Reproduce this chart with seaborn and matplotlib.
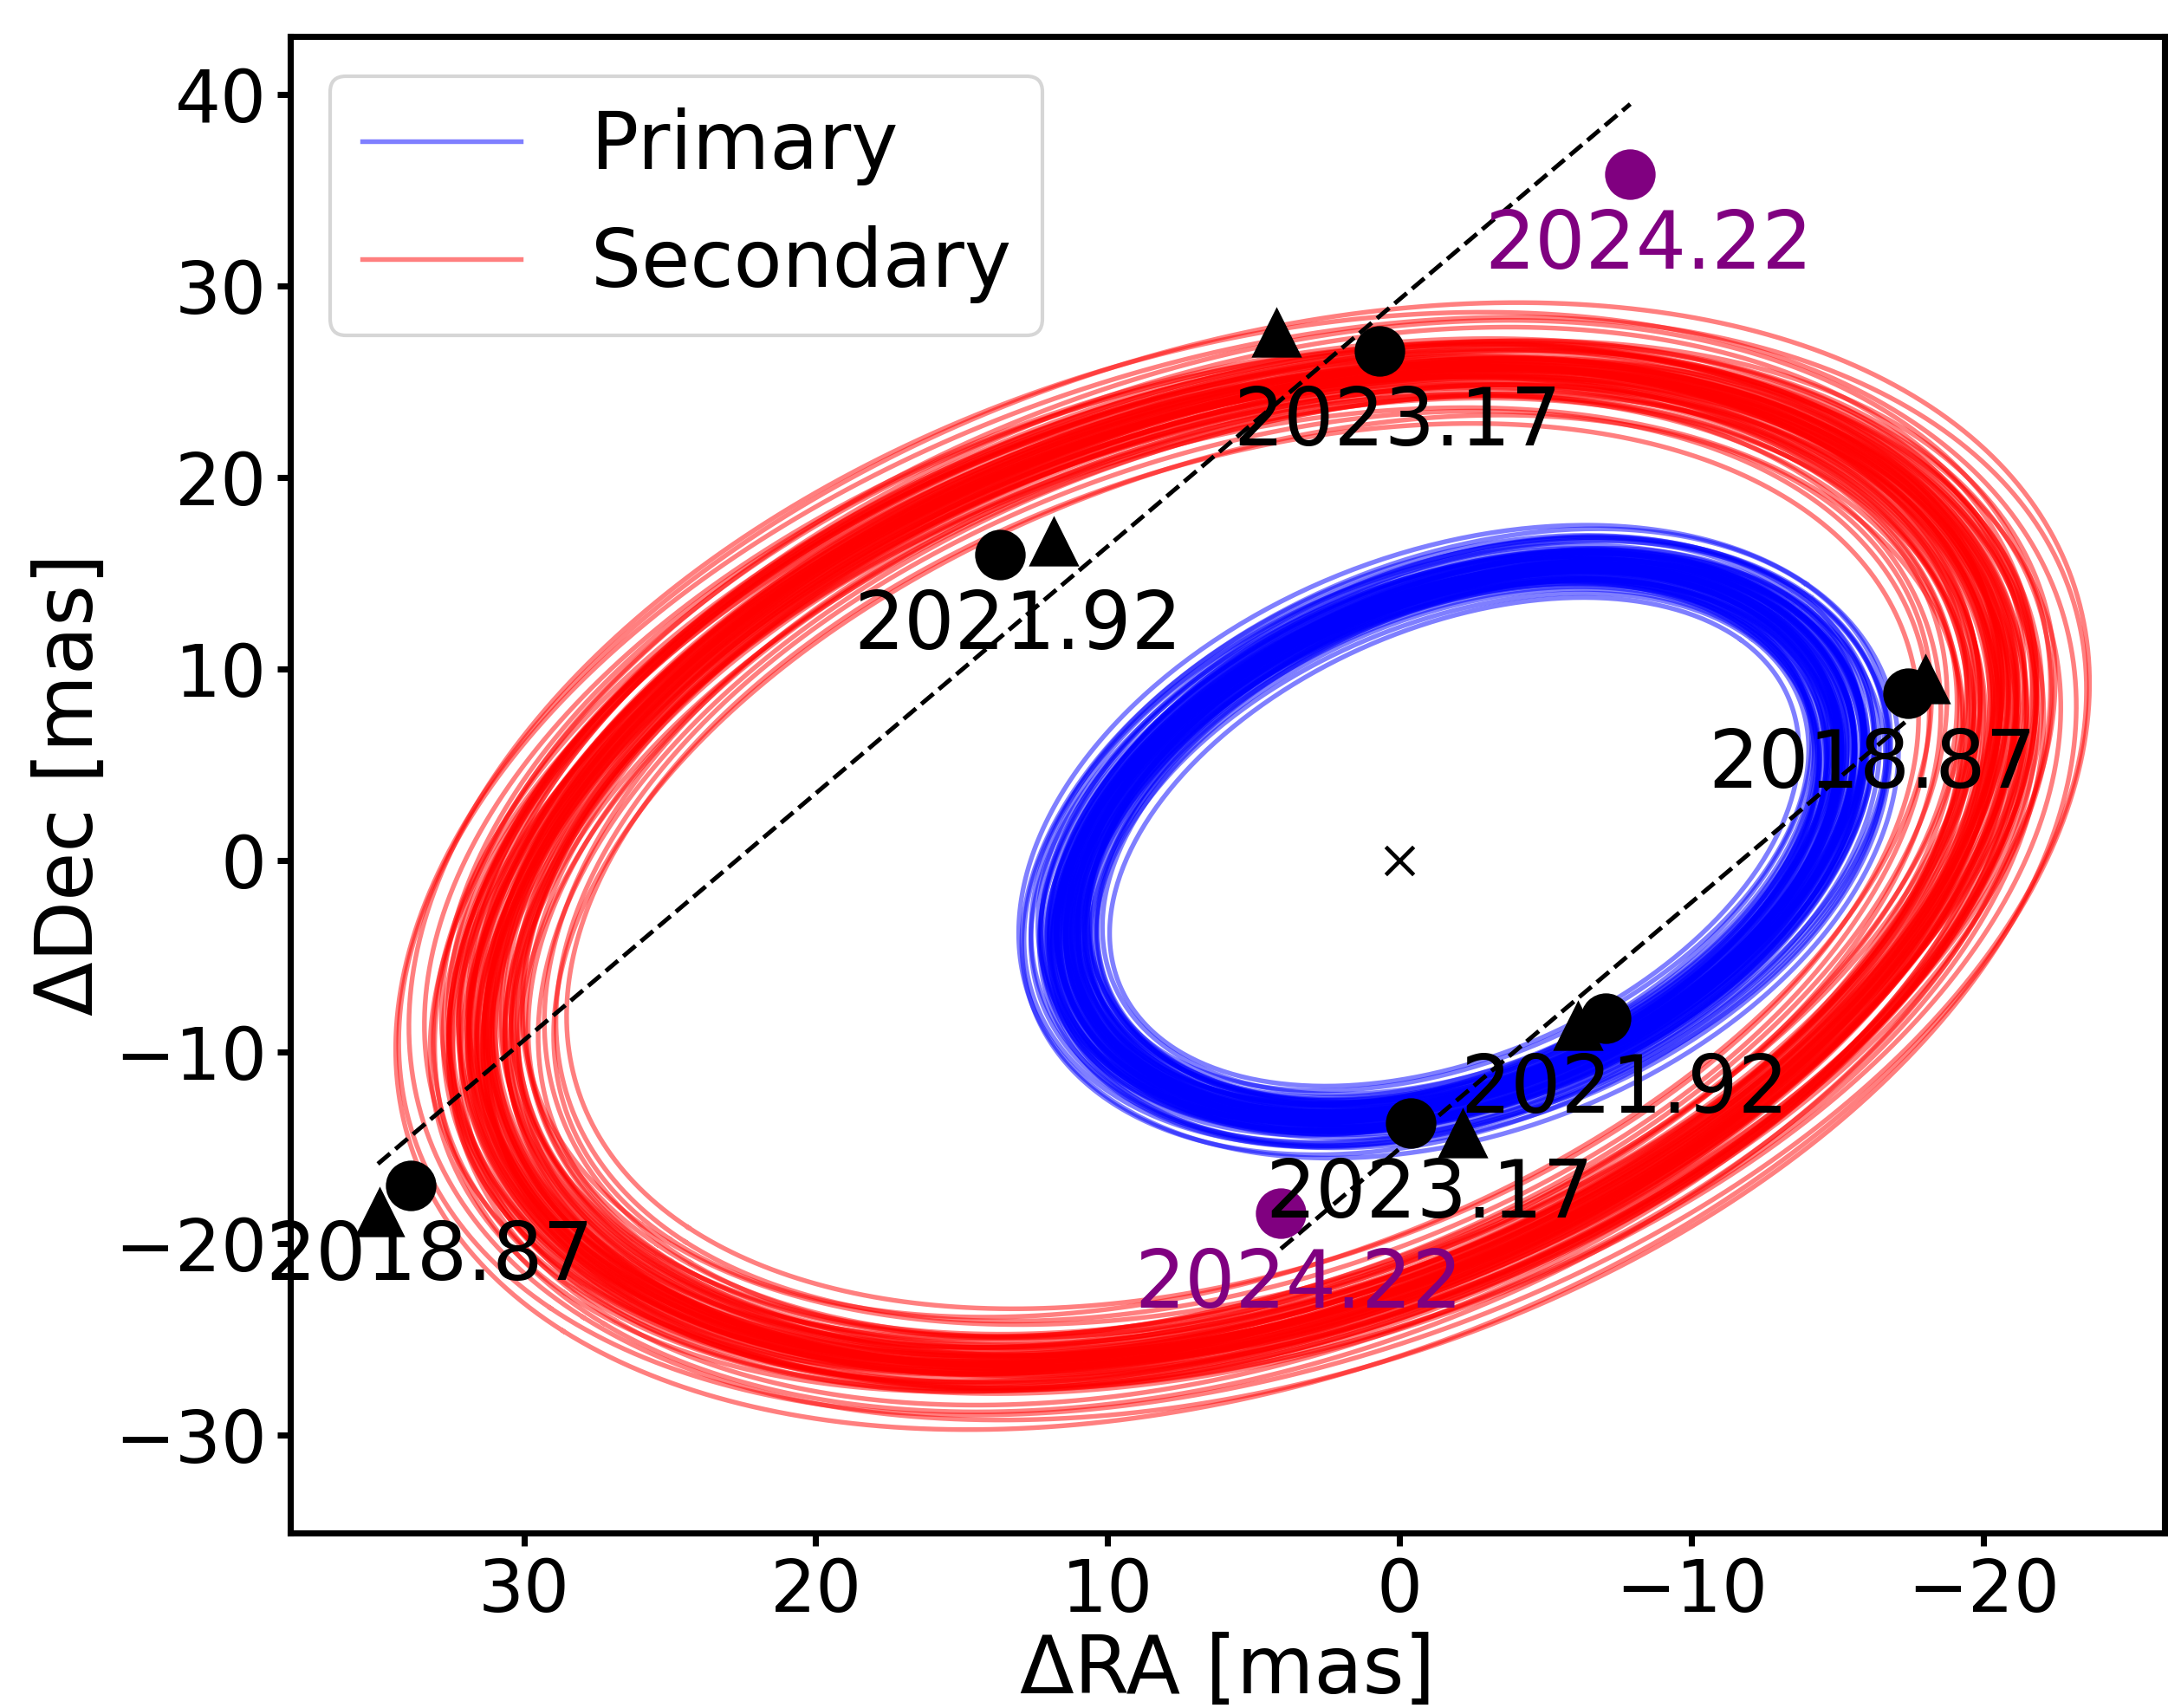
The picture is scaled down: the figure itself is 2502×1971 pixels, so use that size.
import numpy as np
import pandas as pd
import matplotlib
matplotlib.use("Agg")
import matplotlib.pyplot as plt
from matplotlib.lines import Line2D
import seaborn as sns

# ── measured astrometry (mas) ──
epochs = ["2018.87", "2021.92", "2023.17", "2024.22"]
sec_ra = [33.86, 13.69, 0.69, -7.90]
sec_dec = [-16.94, 15.97, 26.60, 35.82]
sec_tri_ra = [34.95, 11.84, 4.23]
sec_tri_dec = [-18.30, 16.67, 27.61]
pri_ra = [-17.42, -7.07, -0.39, 4.07]
pri_dec = [8.75, -8.22, -13.68, -18.39]
pri_tri_ra = [-18.01, -6.12, -2.17]
pri_tri_dec = [9.49, -8.58, -14.18]

sec_line_ra = [35.0, -7.9]
sec_line_dec = [-15.83, 39.48]
pri_line_ra = [4.07, -17.31]
pri_line_dec = [-20.26, 7.22]

# mean projected orbit of the secondary (ellipse, mas / deg)
sec_cx, sec_cy = 5.38, -0.29
sec_a, sec_b = 30.07, 21.3
sec_phi = -45.1
# primary track relative to the mirrored secondary
pri_kx, pri_ky = 0.979, 1.06
pri_dx, pri_dy = 0.82, 0.82

# per-sample orbit variations
orbit_scale = [1.000, 0.982, 1.019, 1.007, 0.961, 1.038, 0.993, 1.013, 1.051, 0.949,
               1.026, 0.987, 1.032, 0.974, 1.000, 1.064, 0.936, 1.010, 1.044, 0.959,
               1.004, 0.990, 1.023, 1.100, 0.910, 1.015, 0.972, 0.997, 1.036, 0.946,
               1.028, 0.985, 1.008, 1.118, 0.890, 1.003, 0.977, 1.058, 0.964, 1.018,
               0.995, 0.988, 1.031, 0.969, 1.077, 0.925, 1.013, 0.992, 1.041, 0.957,
               1.005, 0.983, 1.020, 0.967, 1.048, 0.952, 1.000, 1.026, 0.980, 1.085,
               0.919, 1.011, 0.989, 1.033, 0.974, 1.015, 0.997, 1.054, 0.945, 1.008,
               0.986, 1.024, 0.963, 1.002, 1.043, 0.954, 1.017, 0.991, 1.070, 0.932]
orbit_rot = [0.0, 1.2, -0.8, 1.8, -1.6, 0.4, -0.3, 0.9, -1.3, 2.2,
             -2.1, 0.1, 0.8, -0.9, 2.6, -2.7, 0.5, -0.4, 1.3, -1.0,
             0.2, 1.7, -1.9, 0.9, -0.7, 0.4, -1.2, 1.4, -0.5, -0.1,
             2.3, -1.8, 0.7, -1.1, 0.3, -0.6, 0.0, 1.1, -0.8, 1.9,
             -1.4, 0.6, -0.2, 1.5, -2.4, 2.9, -0.9, 0.1, 1.0, -0.5,
             0.8, -1.5, 1.6, -0.3, 0.5, -2.0, 1.2, -0.6, 2.0, -1.1,
             0.3, -0.8, 1.4, -1.7, 0.6, 0.0, -0.4, 1.8, -1.3, 0.9,
             -2.2, 0.2, 1.0, -0.7, 2.4, -0.2, 0.7, -1.0, 1.3, -2.5]
orbit_ratio = [1.000, 1.020, 0.980, 0.970, 1.030, 1.010, 0.990, 1.040, 0.960, 1.000,
               1.020, 0.985, 1.050, 0.950, 1.010, 0.995, 1.030, 0.975, 1.000, 1.015,
               0.980, 1.060, 0.945, 1.012, 0.990, 1.000, 1.028, 0.972, 1.018, 0.982,
               1.004, 1.038, 0.962, 1.008, 0.992, 1.022, 0.978, 1.000, 1.032, 0.968,
               1.010, 0.988, 1.045, 0.955, 1.002, 1.024, 0.976, 1.014, 0.994, 1.000,
               0.986, 1.026, 0.974, 1.036, 0.964, 1.006, 0.996, 1.016, 0.984, 1.048,
               0.952, 1.011, 0.989, 1.021, 0.979, 1.003, 0.997, 1.034, 0.966, 1.009,
               0.991, 1.019, 0.981, 1.042, 0.958, 1.007, 0.993, 1.027, 0.973, 1.000]
orbit_q = [0.525, 0.533, 0.516, 0.541, 0.509, 0.527, 0.548, 0.502, 0.530, 0.519,
           0.524, 0.553, 0.495, 0.535, 0.514, 0.528, 0.543, 0.507, 0.532, 0.520,
           0.526, 0.559, 0.489, 0.523, 0.537, 0.512, 0.545, 0.505, 0.527, 0.531,
           0.517, 0.550, 0.499, 0.524, 0.538, 0.510, 0.529, 0.540, 0.507, 0.534,
           0.521, 0.525, 0.552, 0.497, 0.528, 0.536, 0.514, 0.542, 0.506, 0.524,
           0.531, 0.518, 0.546, 0.502, 0.527, 0.555, 0.492, 0.533, 0.515, 0.539,
           0.511, 0.529, 0.522, 0.547, 0.500, 0.526, 0.535, 0.517, 0.543, 0.508,
           0.530, 0.520, 0.551, 0.496, 0.524, 0.534, 0.513, 0.544, 0.504, 0.527]

t = np.linspace(0, 2 * np.pi, 361)

fig = plt.figure(figsize=(2502 / 300, 1971 / 300), dpi=300)
ax = fig.add_axes([0.1339, 0.1026, 0.8645, 0.8762])

# sampled orbits: primary then secondary for every draw
for i, (s, dr, r, q) in enumerate(zip(orbit_scale, orbit_rot, orbit_ratio, orbit_q)):
    ang = np.radians(sec_phi + dr)
    a = sec_a * s
    b = sec_b * s * r
    ex = sec_cx + a * np.cos(ang) * np.cos(t) - b * np.sin(ang) * np.sin(t)
    ey = sec_cy + a * np.sin(ang) * np.cos(t) + b * np.cos(ang) * np.sin(t)
    sns.lineplot(x=-q * pri_kx * ex + pri_dx, y=-q * pri_ky * ey + pri_dy,
                 sort=False, estimator=None, color="blue", alpha=0.5, lw=1.3, ax=ax)
    sns.lineplot(x=ex, y=ey, sort=False, estimator=None,
                 color="red", alpha=0.5, lw=1.3, ax=ax)

ax.plot(sec_line_ra, sec_line_dec, "k--", lw=1.2, zorder=3)
ax.plot(pri_line_ra, pri_line_dec, "k--", lw=1.2, zorder=3)

for ra, dec in [(sec_ra, sec_dec), (pri_ra, pri_dec)]:
    sns.scatterplot(x=ra[:3], y=dec[:3], marker="o", s=196, color="black",
                    linewidth=0, zorder=4, ax=ax)
    sns.scatterplot(x=ra[3:], y=dec[3:], marker="o", s=196, color="purple",
                    linewidth=0, zorder=4, ax=ax)
for ra, dec in [(sec_tri_ra, sec_tri_dec), (pri_tri_ra, pri_tri_dec)]:
    sns.scatterplot(x=ra, y=dec, marker="^", s=196, color="black",
                    linewidth=0, zorder=4, ax=ax)
sns.scatterplot(x=[0], y=[0], marker="x", s=60, color="black",
                linewidth=1.1, zorder=4, ax=ax)

# epoch labels
for j, ep in enumerate(epochs):
    col = "purple" if ep == "2024.22" else "black"
    ax.annotate(ep, (sec_ra[j], sec_dec[j]), xytext=(5, -20),
                textcoords="offset points", ha="center", va="center",
                fontsize=22, color=col, zorder=5)
    off = (-10, -20) if ep == "2018.87" else (5, -20)
    ax.annotate(ep, (pri_ra[j], pri_dec[j]), xytext=off,
                textcoords="offset points", ha="center", va="center",
                fontsize=22, color=col, zorder=5)

handles = [Line2D([], [], color="blue", alpha=0.5, lw=1.3),
           Line2D([], [], color="red", alpha=0.5, lw=1.3)]
ax.legend(handles, ["Primary", "Secondary"], loc="upper left", fontsize=22,
          handletextpad=0.88)

ax.set_xlim(38.0, -26.2)
ax.set_ylim(-35.08, 43.02)
ax.set_xticks([30, 20, 10, 0, -10, -20])
ax.set_yticks([-30, -20, -10, 0, 10, 20, 30, 40])
ax.tick_params(labelsize=20, width=1.7, length=3.5, pad=3)
for sp in ax.spines.values():
    sp.set_linewidth(1.7)
ax.set_xlabel("ΔRA [mas]", fontsize=22, labelpad=1.5)
ax.set_ylabel("ΔDec [mas]", fontsize=22, labelpad=1.5)

fig.savefig("out.png", dpi=300)
